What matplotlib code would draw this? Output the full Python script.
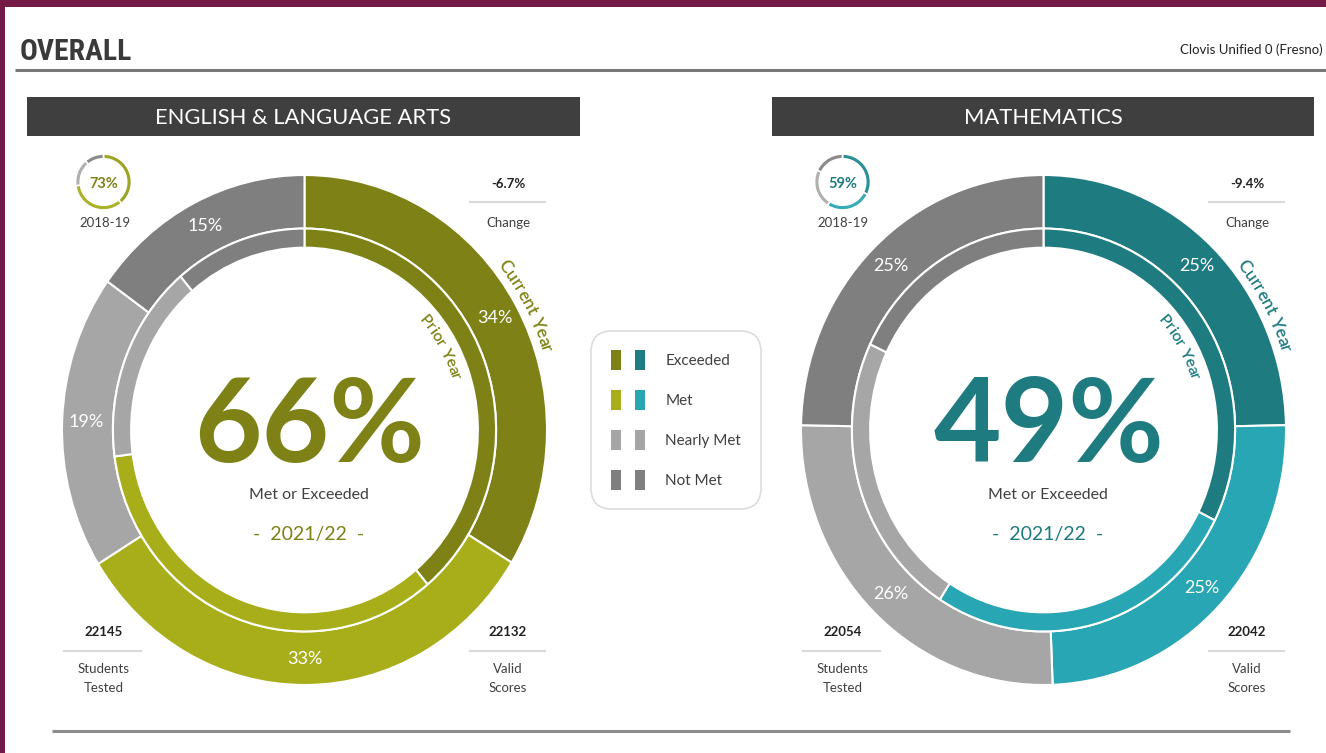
import numpy as np
import matplotlib
matplotlib.use("Agg")
import matplotlib.pyplot as plt
from matplotlib.patches import Rectangle, Patch
from matplotlib.legend_handler import HandlerTuple
from matplotlib.font_manager import FontProperties

W, H = 1326, 753

# data
levels = ["Exceeded", "Met", "Nearly Met", "Not Met"]

ela_current = [33.7, 32.5, 18.7, 15.1]
ela_prior = [38.9, 34.0, 15.9, 11.2]
ela_labels = ["34%", "33%", "19%", "15%"]

math_current = [24.7, 24.7, 25.9, 24.7]
math_prior = [32.4, 26.7, 22.9, 18.0]
math_labels = ["25%", "25%", "26%", "25%"]

ela_met = "66%"
ela_prior_met = "73%"
ela_change = "-6.7%"
ela_tested = "22145"
ela_valid = "22132"

math_met = "49%"
math_prior_met = "59%"
math_change = "-9.4%"
math_tested = "22054"
math_valid = "22042"

school_year = "2021/22"
prior_year = "2018-19"
district = "Clovis Unified 0 (Fresno)"

ela_colors = ["#7e8216", "#a8ae1a", "#a6a6a6", "#7f7f7f"]
math_colors = ["#1e7b80", "#29a6b3", "#a6a6a6", "#7f7f7f"]
ela_small = ["#9ca424", "#aab22a", "#b0b0b0", "#8a8a8a"]
math_small = ["#2a8f96", "#35abb6", "#b0b0b0", "#8a8a8a"]

DARK = "#404040"

plt.rcParams['font.family'] = ['Lato', 'DejaVu Sans']

fig = plt.figure(figsize=(W / 100, H / 100), dpi=100)
bg = fig.add_axes([0, 0, 1, 1])
bg.set_xlim(0, W)
bg.set_ylim(H, 0)
bg.axis('off')
renderer = fig.canvas.get_renderer()


def px_axes(x0, y0, w, h):
    ax = fig.add_axes([x0 / W, 1 - (y0 + h) / H, w / W, h / H])
    ax.set_facecolor('none')
    return ax


# frame, title and rules
bg.add_patch(Rectangle((0, 0), W, 7, color="#741a46", lw=0))
bg.add_patch(Rectangle((0, 0), 5, H, color="#741a46", lw=0))

title_prop = FontProperties(family=['Roboto Condensed', 'Liberation Sans Narrow',
                                    'DejaVu Sans Condensed', 'Roboto'],
                            weight='bold', size=22)
tw = renderer.get_text_width_height_descent("OVERALL", title_prop, ismath=False)[0]
title_prop.set_size(min(22, 22 * 112 / tw))
bg.text(20, 60, "OVERALL", fontproperties=title_prop, color="#3a3a3a",
        ha='left', va='baseline')
bg.text(1323, 54, district, fontsize=9.5, color="#222222", ha='right', va='baseline')
bg.plot([15, W], [70, 70], color="#777777", lw=2.2, solid_capstyle='butt')
bg.plot([52, 1290], [731, 731], color="#8c8c8c", lw=2.2, solid_capstyle='butt')

RX, RY, L = 242.5, 255.0, 1.15


def arc_text(ax, s, r, center_deg, color, size):
    prop = FontProperties(family='Lato', size=size, weight='semibold')
    base = renderer.get_text_width_height_descent('xx', prop, ismath=False)[0]

    def adv(t):
        return renderer.get_text_width_height_descent('x' + t + 'x', prop, ismath=False)[0] - base

    rpx = r * (RX + RY) / 2
    start = np.deg2rad(center_deg) + adv(s) / rpx / 2
    for i, ch in enumerate(s):
        if ch == ' ':
            continue
        mid = (adv(s[:i]) + adv(s[:i + 1])) / 2
        a = start - mid / rpx
        ax.text(r * np.cos(a), r * np.sin(a), ch, fontproperties=prop, color=color,
                rotation=np.rad2deg(a) - 90, rotation_mode='anchor',
                ha='center', va='center')


def stat(x, y, value, label_lines, x0, x1):
    bg.text(x, y, value, fontsize=9.5, fontweight='bold', color="#222222",
            ha='center', va='baseline')
    bg.plot([x0, x1], [y + 15, y + 15], color="#d9d9d9", lw=1.5)
    for k, line in enumerate(label_lines):
        bg.text(x, y + 37 + 19 * k, line, fontsize=9.5, color=DARK, ha='center', va='baseline')


def panel(cx, box, title, current, prior, labels, colors, small_colors,
          met, prior_met, change, tested, valid):
    cy = 430
    bg.add_patch(Rectangle((box[0], 97), box[1] - box[0], 39, color="#3f3f3f", lw=0))
    bg.text((box[0] + box[1]) / 2, 118, title, fontsize=15.8, color="white",
            ha='center', va='center')

    ax = px_axes(cx - RX * L, cy - RY * L, 2 * RX * L, 2 * RY * L)
    wedges, _ = ax.pie(current, radius=1, startangle=90, counterclock=False,
                       colors=colors,
                       wedgeprops=dict(width=0.21, edgecolor='white', linewidth=1.5))
    ax.pie(prior, radius=0.79, startangle=90, counterclock=False, colors=colors,
           wedgeprops=dict(width=0.075, edgecolor='white', linewidth=1.5))
    ax.set_aspect('auto')
    ax.set_xlim(-L, L)
    ax.set_ylim(-L, L)
    ax.axis('off')
    for w, lab in zip(wedges, labels):
        a = np.deg2rad((w.theta1 + w.theta2) / 2)
        ax.text(0.9 * np.cos(a), 0.9 * np.sin(a), lab, color='white', fontsize=13,
                ha='center', va='center')
    arc_text(ax, "Current Year", 1.045, 28, colors[0], 12.5)
    arc_text(ax, "Prior Year", 0.655, 30, colors[0], 11.5)

    bg.text(cx + 5, 462, met, fontsize=84, fontweight='bold', color=colors[0],
            ha='center', va='baseline')
    bg.text(cx + 4, 499, "Met or Exceeded", fontsize=11.5, color=DARK,
            ha='center', va='baseline')
    bg.text(cx + 4, 540, "-  " + school_year + "  -", fontsize=14, color=colors[0],
            ha='center', va='baseline')

    # small prior-year ring
    sx, sy = cx - 201, 182
    sa = px_axes(sx - 35, sy - 35, 70, 70)
    sa.pie(prior, radius=1, startangle=90, counterclock=False, colors=small_colors,
           wedgeprops=dict(width=0.17, edgecolor='white', linewidth=1.2))
    sa.set_xlim(-1.25, 1.25)
    sa.set_ylim(-1.25, 1.25)
    sa.axis('off')
    bg.text(sx, sy + 6, prior_met, fontsize=10.5, fontweight='bold', color=colors[0],
            ha='center', va='baseline')
    bg.text(sx + 1, 227, prior_year, fontsize=9.5, color=DARK, ha='center', va='baseline')

    # change and counts
    rx = cx + 203.5
    bg.text(rx, 188, change, fontsize=9.5, fontweight='bold', color="#222222",
            ha='center', va='baseline')
    bg.plot([rx - 38, rx + 37], [202, 202], color="#d9d9d9", lw=1.5)
    bg.text(rx, 227, "Change", fontsize=9.5, color=DARK, ha='center', va='baseline')
    stat(cx - 201, 636, tested, ["Students", "Tested"], cx - 241, cx - 164)
    stat(rx, 636, valid, ["Valid", "Scores"], rx - 38, rx + 37)


panel(304.5, (27, 580), "ENGLISH & LANGUAGE ARTS", ela_current, ela_prior, ela_labels,
      ela_colors, ela_small, ela_met, ela_prior_met, ela_change, ela_tested, ela_valid)
panel(1043.5, (772, 1314), "MATHEMATICS", math_current, math_prior, math_labels,
      math_colors, math_small, math_met, math_prior_met, math_change, math_tested, math_valid)

# legend in the middle
handles = [(Patch(color=e, lw=0), Patch(color=m, lw=0))
           for e, m in zip(ela_colors, math_colors)]
leg = fig.legend(handles, levels, loc='center', bbox_to_anchor=(676 / W, 1 - 420 / H),
                 handler_map={tuple: HandlerTuple(ndivide=None, pad=0.92)},
                 fontsize=11, handlelength=2.22, handleheight=1.57, handletextpad=1.35,
                 labelspacing=1.35, borderpad=1.3, frameon=True, fancybox=True,
                 edgecolor="#dcdcdc", facecolor='white', framealpha=1)
leg.get_frame().set_boxstyle('round', pad=0, rounding_size=1.4)
leg.get_frame().set_linewidth(1.2)
for t in leg.get_texts():
    t.set_color(DARK)

fig.savefig("out.png", dpi=100, facecolor='white')
